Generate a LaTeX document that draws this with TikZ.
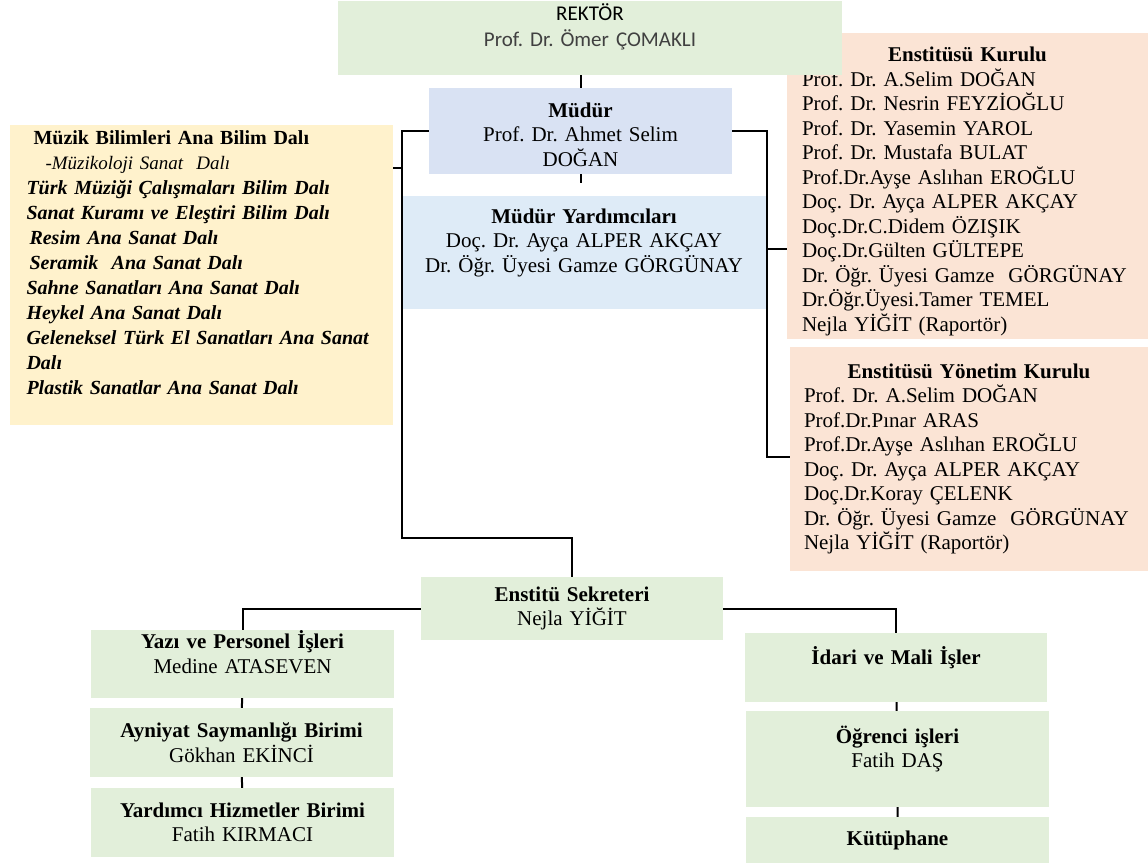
\documentclass[tikz,border=0pt]{standalone}
\usepackage{fontspec}
\setmainfont{Liberation Serif}
\newfontfamily\calibrifont{Carlito}
\usepackage{tikz}
\frenchspacing
\hyphenpenalty=10000
\exhyphenpenalty=10000

\definecolor{rekgreen}{HTML}{E2EFDA}
\definecolor{mudblue}{HTML}{D9E2F3}
\definecolor{yardblue}{HTML}{DEEBF7}
\definecolor{muzyellow}{HTML}{FFF2CC}
\definecolor{kurpink}{HTML}{FBE4D5}
\definecolor{namegray}{HTML}{404040}

\begin{document}
\begin{tikzpicture}[x=1pt, y=-1pt,
  box/.style={inner sep=0pt, align=center, font=\fontsize{21}{24.5}\selectfont},
  greenbox/.style={box, fill=rekgreen, minimum width=303pt, text width=293pt},
  conn/.style={line width=2pt}]
\useasboundingbox (0,0) rectangle (1148,866);

% Kurullar on the right, drawn first: the Rektor box covers their corner
\node[box, fill=kurpink, align=left, minimum width=361pt, minimum height=306pt, text width=331pt] at (967.5,186) (kurulu) {\makebox[\linewidth]{\rule{0pt}{25pt}\textbf{Enstitüsü Kurulu}}\\
  Prof. Dr. A.Selim DOĞAN\\ Prof. Dr. Nesrin FEYZİOĞLU\\ Prof. Dr. Yasemin YAROL\\
  Prof. Dr. Mustafa BULAT\\ Prof.Dr.Ayşe Aslıhan EROĞLU\\ Doç. Dr. Ayça ALPER AKÇAY\\
  Doç.Dr.C.Didem ÖZIŞIK\\ Doç.Dr.Gülten GÜLTEPE\\ Dr. Öğr. Üyesi Gamze~ GÖRGÜNAY\\
  Dr.Öğr.Üyesi.Tamer TEMEL\\ Nejla YİĞİT (Raportör)};
\node[box, fill=kurpink, align=left, minimum width=358pt, minimum height=224pt, text width=330pt] at (969,459) (yonetim) {\makebox[\linewidth]{\textbf{Enstitüsü Yönetim Kurulu}}\\
  Prof. Dr. A.Selim DOĞAN\\ Prof.Dr.Pınar ARAS\\ Prof.Dr.Ayşe Aslıhan EROĞLU\\
  Doç. Dr. Ayça ALPER AKÇAY\\ Doç.Dr.Koray ÇELENK\\ Dr. Öğr. Üyesi Gamze~ GÖRGÜNAY\\
  Nejla YİĞİT (Raportör)};

% Rektor, Mudur and yardimcilari
\node[box, fill=rekgreen, minimum width=504pt, minimum height=74pt, text width=494pt, font=\calibrifont\fontsize{21}{26}\selectfont] at (590,38) (rektor) {REKTÖR\\ \textcolor{namegray}{Prof. Dr. Ömer ÇOMAKLI}\\ \mbox{}};
\node[box, fill=mudblue, minimum width=303pt, minimum height=86pt, text width=293pt] at (580.5,131) (mudur) {\rule{0pt}{22pt}\textbf{Müdür}\\ Prof. Dr. Ahmet Selim\\ DOĞAN};
\node[box, fill=yardblue, minimum width=364pt, minimum height=113pt, text width=354pt] at (584,252.5) (yard) {\textbf{Müdür Yardımcıları}\\ Doç. Dr. Ayça ALPER AKÇAY\\ Dr. Öğr. Üyesi Gamze GÖRGÜNAY\\ \mbox{}};

% Ana bilim / ana sanat dallari
\node[box, fill=muzyellow, align=left, minimum width=383pt, minimum height=300pt, text width=350pt, font=\fontsize{20}{25}\selectfont\bfseries\itshape] at (201.5,275) (muzik) {\hspace*{7pt}{\upshape Müzik Bilimleri Ana Bilim Dalı}\\
  \hspace*{19pt}{\mdseries\fontsize{19}{25}\selectfont -Müzikoloji Sanat~ Dalı}\\
  Türk Müziği Çalışmaları Bilim Dalı\\ Sanat Kuramı ve Eleştiri Bilim Dalı\\
  \hspace*{3pt}Resim Ana Sanat Dalı\\ \hspace*{3pt}Seramik~ Ana Sanat Dalı\\
  Sahne Sanatları Ana Sanat Dalı\\ Heykel Ana Sanat Dalı\\
  \mbox{Geleneksel Türk El Sanatları Ana Sanat}\\ Dalı\\ Plastik Sanatlar Ana Sanat Dalı\\ \mbox{}};

% Sekreter and the units under it
\node[greenbox, minimum width=302pt, minimum height=63pt] at (572,608.5) (sekreter) {\textbf{Enstitü Sekreteri}\\ Nejla YİĞİT};
\node[greenbox, minimum height=68pt] at (242.5,664) (yazi) {\textbf{Yazı ve Personel İşleri}\\ Medine ATASEVEN\\ \mbox{}};
\node[greenbox, minimum height=69pt] at (241.5,742.5) (ayniyat) {\textbf{Ayniyat Saymanlığı Birimi}\\ Gökhan EKİNCİ};
\node[greenbox, minimum height=69pt] at (242.5,822.5) (yardimci) {\textbf{Yardımcı Hizmetler Birimi}\\ Fatih KIRMACI};
\node[greenbox, minimum width=302pt, minimum height=69pt] at (896,667.5) (idari) {\textbf{İdari ve Mali İşler}\\ \mbox{}};
\node[greenbox, minimum height=96pt] at (897.5,759) (ogrenci) {\textbf{Öğrenci işleri}\\ Fatih DAŞ\\ \mbox{}};
\node[greenbox, minimum height=46pt] at (897.5,840) (kutuphane) {\textbf{Kütüphane}};

% Corners of the brackets
\coordinate (ljoin) at (402,538);
\coordinate (rjoin) at (767,457);
\coordinate (yjoin) at (402,168);
\coordinate (kjoin) at (767,249);
\coordinate (stub) at (580.5,183);

% Wires
\draw[conn] (mudur.north) -- (mudur.north |- rektor.south);
\draw[conn] (mudur.south) -- (stub);
\draw[conn] (mudur.west) -| (ljoin) -| (sekreter.north);
\draw[conn] (yjoin -| muzik.east) -- (yjoin);
\draw[conn] (mudur.east) -| (rjoin) -- (rjoin -| yonetim.west);
\draw[conn] (kjoin) -- (kjoin -| kurulu.west);
\draw[conn] (sekreter.west) -| (yazi.north);
\draw[conn] (sekreter.east) -| (idari.north);
\draw[conn] (yazi) -- (ayniyat) -- (yardimci);
\draw[conn] (idari) -- (ogrenci) -- (kutuphane);
\end{tikzpicture}
\end{document}
